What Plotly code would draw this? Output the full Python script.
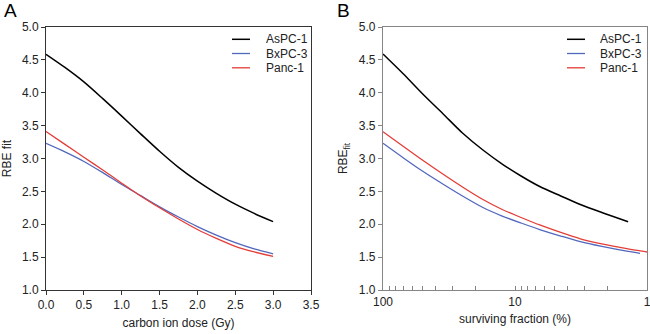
import plotly.graph_objects as go

# ---- data: panel A (RBE fit vs carbon ion dose, Gy) ----
dose = [0.0, 0.25, 0.5, 0.75, 1.0, 1.25, 1.5, 1.75, 2.0, 2.25, 2.5, 2.75, 3.0]
rbe_aspc_dose = [4.585, 4.385, 4.165, 3.91, 3.645, 3.375, 3.11, 2.865, 2.655, 2.47, 2.305, 2.165, 2.04]
rbe_bxpc_dose = [3.23, 3.10, 2.955, 2.785, 2.605, 2.435, 2.265, 2.11, 1.965, 1.835, 1.72, 1.625, 1.55]
rbe_panc_dose = [3.41, 3.215, 3.02, 2.825, 2.625, 2.43, 2.25, 2.08, 1.92, 1.785, 1.665, 1.58, 1.51]

# ---- data: panel B (RBE fit vs surviving fraction, %) ----
sf_aspc = [100, 70, 50, 35, 25, 17.5, 12.5, 9, 6.5, 4.5, 3.2, 2.2, 1.39]
rbe_aspc_sf = [4.589, 4.285, 3.981, 3.677, 3.388, 3.129, 2.916, 2.734, 2.574, 2.430, 2.300, 2.179, 2.039]
sf_bxpc = [100, 70, 50, 35, 25, 17.5, 12.5, 9, 6.5, 4.5, 3.2, 2.2, 1.39, 1.13]
rbe_bxpc_sf = [3.231, 3.008, 2.805, 2.608, 2.430, 2.255, 2.125, 2.019, 1.920, 1.821, 1.735, 1.662, 1.586, 1.558]
sf_panc = [100, 70, 50, 35, 25, 17.5, 12.5, 9, 6.5, 4.5, 3.2, 2.2, 1.39, 1.0, 0.9]
rbe_panc_sf = [3.408, 3.183, 2.973, 2.760, 2.567, 2.376, 2.224, 2.103, 1.989, 1.875, 1.779, 1.700, 1.624, 1.578, 1.563]

names = ["AsPC-1", "BxPC-3", "Panc-1"]
colors = ["#000000", "#5268bd", "#e53c36"]
widths = [1.5, 1.3, 1.3]

x_ticks_A = [0.0, 0.5, 1.0, 1.5, 2.0, 2.5, 3.0, 3.5]
y_ticks = [1.0, 1.5, 2.0, 2.5, 3.0, 3.5, 4.0, 4.5, 5.0]
x_ticks_B = [100, 90, 80, 70, 60, 50, 40, 30, 20, 10, 9, 8, 7, 6, 5, 4, 3, 2, 1]
x_labels_B = ["100" if v == 100 else "10" if v == 10 else "1" if v == 1 else "" for v in x_ticks_B]

FONT = "Liberation Sans, Arial, sans-serif"
W, H = 650, 334
ML, MR, MT, MB = 46, 3, 27, 44
PW, PH = W - ML - MR, H - MT - MB


def px_x(px):
    return (px - ML) / PW


def px_y(py):
    return (H - MB - py) / PH


fig = go.Figure()

dataA = [(dose, rbe_aspc_dose), (dose, rbe_bxpc_dose), (dose, rbe_panc_dose)]
dataB = [(sf_aspc, rbe_aspc_sf), (sf_bxpc, rbe_bxpc_sf), (sf_panc, rbe_panc_sf)]

for (x, y), n, c, w in zip(dataA, names, colors, widths):
    fig.add_trace(go.Scatter(x=x, y=y, mode="lines", name=n, showlegend=False,
                             line=dict(color=c, width=w, shape="spline", smoothing=0.8),
                             xaxis="x", yaxis="y"))
for (x, y), n, c, w in zip(dataB, names, colors, widths):
    fig.add_trace(go.Scatter(x=x, y=y, mode="lines", name=n, showlegend=False,
                             line=dict(color=c, width=w, shape="spline", smoothing=0.8),
                             xaxis="x2", yaxis="y2"))

axis_font = dict(family=FONT, size=12, color="#222")
colA = "#333333"
colB = "#858585"

common = dict(showgrid=False, zeroline=False, automargin=False, showline=True, mirror=True,
              tickfont=axis_font)

fig.update_layout(
    width=W, height=H,
    margin=dict(l=ML, r=MR, t=MT, b=MB),
    paper_bgcolor="white", plot_bgcolor="white",
    font=dict(family=FONT, size=12, color="#222"),
    showlegend=False,
    xaxis=dict(domain=[0, px_x(311)], range=[0, 3.5], tickvals=x_ticks_A, tickformat=".1f",
               linecolor=colA, linewidth=1, ticks="outside", ticklen=4, tickcolor=colA,
               title=dict(text="carbon ion dose (Gy)", font=axis_font, standoff=7), **common),
    yaxis=dict(domain=[0, 1], range=[1, 5], tickvals=y_ticks, tickformat=".1f",
               linecolor=colA, linewidth=1, ticks="outside", ticklen=4, tickcolor=colA,
               title=dict(text="RBE fit", font=axis_font, standoff=10), **common),
    xaxis2=dict(domain=[px_x(383), 1], type="log", range=[2, 0], tickvals=x_ticks_B,
                ticktext=x_labels_B, ticklabeloverflow="allow",
                linecolor=colB, linewidth=1.3, ticks="inside", ticklen=4, tickwidth=1.1, tickcolor=colB,
                anchor="y2",
                title=dict(text="surviving fraction (%)", font=axis_font, standoff=7), **common),
    yaxis2=dict(domain=[0, 1], range=[1, 5], tickvals=y_ticks, tickformat=".1f",
                linecolor=colB, linewidth=1.3, ticks="outside", ticklen=4, tickcolor=colB,
                anchor="x2",
                title=dict(text="RBE<sub>fit</sub>", font=axis_font, standoff=8), **common),
)

# legends (one per panel), built from the series names and colours
shapes, annotations = [], []
row_y = [39.3, 53.5, 67.8]
for (lx0, lx1, tx) in [(232, 250, 264), (567, 585, 598)]:
    for n, c, w, ry in zip(names, colors, widths, row_y):
        shapes.append(dict(type="line", xref="paper", yref="paper",
                           x0=px_x(lx0), x1=px_x(lx1), y0=px_y(ry), y1=px_y(ry),
                           line=dict(color=c, width=w)))
        annotations.append(dict(text=n, x=px_x(tx), y=px_y(ry), xref="paper", yref="paper",
                                xanchor="left", yanchor="middle", showarrow=False,
                                font=dict(family=FONT, size=12, color="#222")))

annotations.append(dict(text="A", x=px_x(2), y=px_y(11), xref="paper", yref="paper",
                        xanchor="left", yanchor="middle", showarrow=False,
                        font=dict(family=FONT, size=19, color="#000")))
annotations.append(dict(text="B", x=px_x(335), y=px_y(11), xref="paper", yref="paper",
                        xanchor="left", yanchor="middle", showarrow=False,
                        font=dict(family=FONT, size=19, color="#000")))

fig.update_layout(shapes=shapes, annotations=annotations)

fig.write_html("out.html", config={"displayModeBar": False},
               post_script="document.body.style.margin='0';document.body.style.overflow='hidden';")
